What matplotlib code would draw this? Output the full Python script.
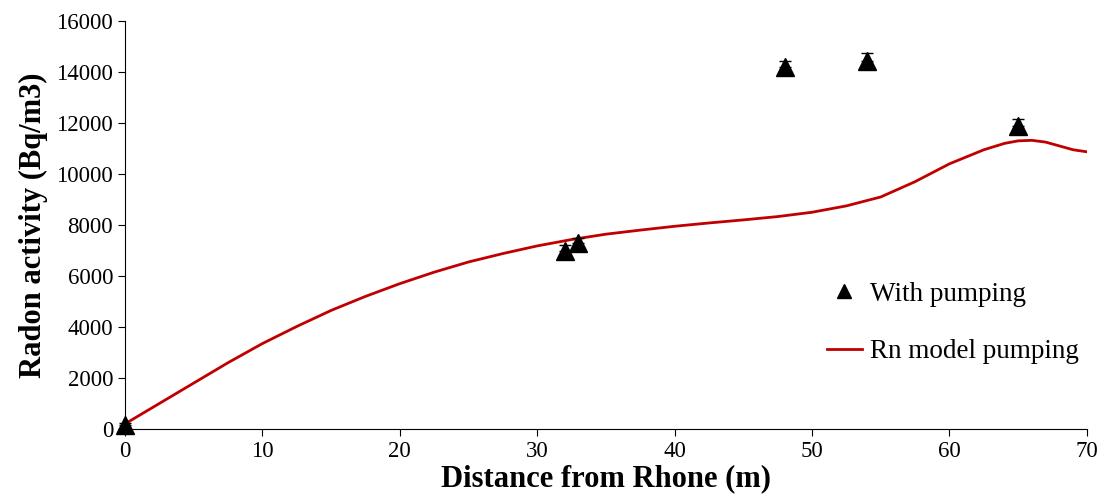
import numpy as np
import matplotlib.pyplot as plt

# data points (measured, with pumping)
dist_obs = [0, 32, 33, 48, 54, 65]
rn_obs = [150, 7000, 7300, 14200, 14450, 11900]
rn_err = [100, 200, 200, 250, 300, 250]

# model curve
dist_mod = [0, 2.5, 5, 7.5, 10, 12.5, 15, 17.5, 20, 22.5, 25, 27.5, 30, 32.5, 35,
            37.5, 40, 42.5, 45, 47.5, 50, 52.5, 55, 57.5, 60, 62.5, 64, 65, 66, 67, 68, 69, 70]
rn_mod = [200, 1000, 1800, 2600, 3350, 4020, 4650, 5200, 5700, 6150, 6550, 6880, 7180, 7430, 7640,
          7800, 7950, 8080, 8200, 8330, 8500, 8750, 9100, 9700, 10400, 10950, 11200, 11300, 11320,
          11250, 11100, 10950, 10870]

plt.rcParams['font.family'] = ['Liberation Serif', 'DejaVu Serif']

fig = plt.figure(figsize=(10.99, 5), dpi=100)
ax = fig.add_axes([0.1137, 0.142, 0.8753, 0.816])

ax.plot(dist_mod, rn_mod, color='#c00000', lw=2, label='Rn model pumping', zorder=2)
# error bars only upward
ax.errorbar(dist_obs, rn_obs, yerr=[np.zeros(len(rn_err)), rn_err], fmt='none', ecolor='black',
            capsize=4, elinewidth=1, zorder=3, clip_on=False)
ax.plot(dist_obs, rn_obs, '^', color='black', ms=13, label='With pumping', zorder=4, clip_on=False)

ax.set_xlim(0, 70)
ax.set_ylim(0, 16000)
ax.set_xticks(range(0, 71, 10))
ax.set_yticks(range(0, 16001, 2000))
ax.tick_params(labelsize=16.5, direction='out', length=5, color='black')
ax.spines['top'].set_visible(False)
ax.spines['right'].set_visible(False)
ax.set_xlabel('Distance from Rhone (m)', fontsize=22, fontweight='bold', labelpad=2)
ax.set_ylabel('Radon activity (Bq/m3)', fontsize=22, fontweight='bold', labelpad=6)

h, l = ax.get_legend_handles_labels()
ax.legend(h[::-1], l[::-1], loc='center right', bbox_to_anchor=(1.017, 0.26), frameon=False,
          fontsize=19.5, handlelength=1.3, labelspacing=1.2, handletextpad=0.3, markerscale=0.8)

fig.savefig('out.png', dpi=100)
